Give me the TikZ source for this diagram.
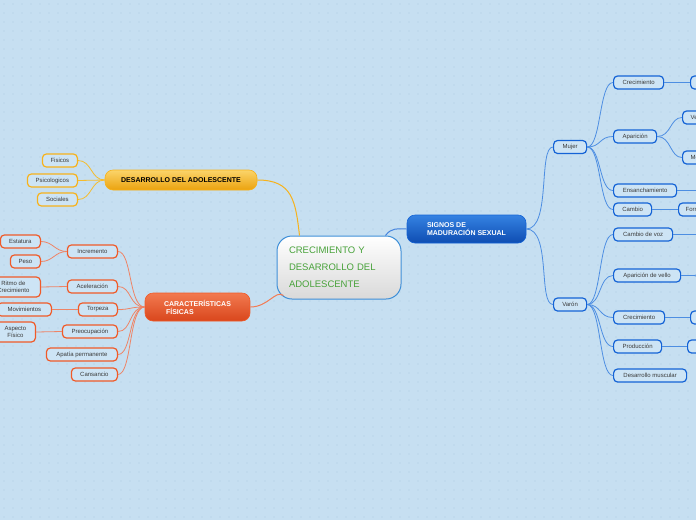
\documentclass[tikz,border=0pt]{standalone}
\usepackage{fontspec}
\setmainfont{Liberation Sans}
\usepackage{xcolor}
\usetikzlibrary{positioning,arrows.meta}

\definecolor{mapbg}{HTML}{C6DFF1}
\definecolor{mapdot}{HTML}{AFCBE2}
\definecolor{leaffill}{HTML}{CDE4F5}
\definecolor{leaftext}{HTML}{3A3A3A}
\definecolor{orangeline}{HTML}{F7B21B}
\definecolor{orangetop}{HTML}{FBD46A}
\definecolor{orangebot}{HTML}{EBA20E}
\definecolor{orangeedge}{HTML}{F5BC2E}
\definecolor{redline}{HTML}{F05A28}
\definecolor{redtop}{HTML}{F27A50}
\definecolor{redbot}{HTML}{D9461C}
\definecolor{redge}{HTML}{EE8466}
\definecolor{blueline}{HTML}{1463D6}
\definecolor{bluetop}{HTML}{3582E2}
\definecolor{bluebot}{HTML}{0E4DB2}
\definecolor{bluedge}{HTML}{4D8EE2}
\definecolor{centreline}{HTML}{3E8FD8}
\definecolor{centretext}{HTML}{48A23A}

\begin{document}
\begin{tikzpicture}[
		x=1pt,y=-1pt,
		leaf/.style={
			draw,
			rounded corners=4pt,
			line width=1.2pt,
			fill=leaffill,
			minimum height=13pt,
			inner sep=1pt,
			text=leaftext,
			font=\fontsize{6}{7}\selectfont
		},
		orangeleaf/.style={leaf,draw=orangeline},
		redleaf/.style={leaf,draw=redline},
		blueleaf/.style={leaf,draw=blueline},
		head/.style={
			rounded corners=8pt,
			line width=0.6pt,
			align=left,
			font=\fontsize{7}{8}\selectfont\bfseries
		},
		orangeedge/.style={draw=orangeedge,line width=0.8pt},
		rededge/.style={draw=redge,line width=0.8pt},
		blueedge/.style={draw=bluedge,line width=0.8pt}
		]
		
		% background with dots
		\fill[mapbg] (0,0) rectangle (696,520);
		\useasboundingbox (0,0) rectangle (696,520);
		\clip (0,0) rectangle (696,520);
		\foreach \x in {4,13,...,696}
			\foreach \y in {4,13,...,520}
				\fill[mapdot] (\x,\y) circle (0.55pt);
		
		% centre
		\node[draw=centreline,line width=1pt,rounded corners=15pt,
			top color=white,bottom color=black!15,
			minimum width=124pt,minimum height=63pt,
			text width=100pt,align=left,text=centretext,
			font=\fontsize{9.5}{17}\selectfont]
		(cen) at (339,267.5)
		{CRECIMIENTO Y\\DESARROLLO DEL\\ADOLESCENTE};
		
		% main branches
		\node[head,draw=orangeline,top color=orangetop,bottom color=orangebot,
			minimum width=152pt,minimum height=20pt]
		(des) at (181,180)
		{DESARROLLO DEL ADOLESCENTE};
		
		\node[head,draw=redline,top color=redtop,bottom color=redbot,text=white,
			minimum width=105pt,minimum height=28pt]
		(car) at (197.5,307)
		{CARACTERÍSTICAS\\\hspace*{2pt}FÍSICAS};
		
		\node[head,draw=blueline,top color=bluetop,bottom color=bluebot,text=white,
			minimum width=119pt,minimum height=28pt]
		(sig) at (466.5,229)
		{SIGNOS DE\\MADURACIÓN SEXUAL};
		
		% desarrollo
		\node[orangeleaf,minimum width=35pt,anchor=east]
		(fis) at (78,160.5)
		{Fisicos};
		
		\node[orangeleaf,minimum width=50pt,anchor=east]
		(psi) at (78,180.5)
		{Psicologicos};
		
		\node[orangeleaf,minimum width=40pt,anchor=east]
		(soc) at (78,199.5)
		{Sociales};
		
		% caracteristicas
		\node[redleaf,minimum width=50pt,anchor=east]
		(inc) at (118,251.5)
		{Incremento};
		
		\node[redleaf,minimum width=50pt,anchor=east]
		(ace) at (118,286.5)
		{Aceleración};
		
		\node[redleaf,minimum width=39pt,anchor=east]
		(tor) at (118,309.5)
		{Torpeza};
		
		\node[redleaf,minimum width=55pt,anchor=east]
		(pre) at (118,331.5)
		{Preocupación};
		
		\node[redleaf,minimum width=71pt,anchor=east]
		(apa) at (118,354.5)
		{Apatía permanente};
		
		\node[redleaf,minimum width=46pt,anchor=east]
		(can) at (118,374.5)
		{Cansancio};
		
		\node[redleaf,minimum width=40pt,anchor=east]
		(est) at (41,241.5)
		{Estatura};
		
		\node[redleaf,minimum width=30pt,anchor=east]
		(pes) at (41,261.5)
		{Peso};
		
		\node[redleaf,minimum width=54pt,minimum height=20pt,align=center,anchor=east]
		(rit) at (41,287)
		{Ritmo de\\Crecimiento};
		
		\node[redleaf,minimum width=54pt,anchor=east]
		(mov) at (52,309.5)
		{Movimientos};
		
		\node[redleaf,minimum width=40pt,minimum height=20pt,align=center,anchor=east]
		(asp) at (36,332)
		{Aspecto\\Físico};
		
		% signos
		\node[blueleaf,minimum width=33pt,anchor=west]
		(muj) at (553,147)
		{Mujer};
		
		\node[blueleaf,minimum width=33pt,anchor=west]
		(var) at (553,304.5)
		{Varón};
		
		\node[blueleaf,minimum width=50pt,anchor=west]
		(mcre) at (613,82.5)
		{Crecimiento};
		
		\node[blueleaf,minimum width=43pt,anchor=west]
		(mapa) at (613,136.5)
		{Aparición};
		
		\node[blueleaf,minimum width=63pt,anchor=west]
		(ens) at (613,190.5)
		{Ensanchamiento};
		
		\node[blueleaf,minimum width=38pt,anchor=west]
		(mcam) at (613,209.5)
		{Cambio};
		
		\node[blueleaf,minimum width=59pt,anchor=west]
		(voz) at (613,234.5)
		{Cambio de voz};
		
		\node[blueleaf,minimum width=67pt,anchor=west]
		(vel) at (613,275.5)
		{Aparición de vello};
		
		\node[blueleaf,minimum width=51pt,anchor=west]
		(vcre) at (613,317.5)
		{Crecimiento};
		
		\node[blueleaf,minimum width=48pt,anchor=west]
		(pro) at (613,346.5)
		{Producción};
		
		\node[blueleaf,minimum width=73pt,anchor=west]
		(mus) at (613,375.5)
		{Desarrollo muscular};
		
		% cut off at the right edge
		\node[blueleaf,minimum width=40pt,anchor=west]
		(mcre2) at (690,82.5)
		{};
		
		\node[blueleaf,inner xsep=8pt,anchor=west]
		(mvel) at (682,117.5)
		{Vello};
		
		\node[blueleaf,inner xsep=8pt,anchor=west]
		(mmen) at (682,157.5)
		{Menstruación};
		
		\node[blueleaf,inner xsep=7pt,anchor=west]
		(mfor) at (678,209.5)
		{Forma};
		
		\node[blueleaf,minimum width=40pt,anchor=west]
		(vcre2) at (690,317.5)
		{};
		
		\node[blueleaf,minimum width=40pt,anchor=west]
		(pro2) at (687,346.5)
		{};
		
		\coordinate (ens2) at (730,190.5);
		\coordinate (voz2) at (730,234.5);
		\coordinate (vel2a) at (720,258);
		\coordinate (vel2b) at (720,294);
		
		% centre to branches
		\draw[draw=orangeline,line width=1pt] (des.east) .. controls +(35,0) and +(-4,-35) .. ([xshift=23pt]cen.north west);
		\draw[draw=redline!80,line width=1pt] (car.east) .. controls +(18,0) and +(-8,-6) .. ([xshift=7pt,yshift=4pt]cen.south west);
		\draw[draw=blueline!80,line width=1pt] ([xshift=-16pt]cen.north east) .. controls +(6,-8) and +(-10,0) .. (sig.west);
		
		% desarrollo
		\foreach \n in {fis,psi,soc}
			\draw[orangeedge] (des.west) .. controls +(-14,0) and +(14,0) .. (\n.east);
		
		% caracteristicas
		\foreach \n in {inc,ace,tor,pre,apa,can}
			\draw[rededge] (car.west) .. controls +(-16,0) and +(14,0) .. (\n.east);
		\draw[rededge] (inc.west) .. controls +(-12,0) and +(12,0) .. (est.east);
		\draw[rededge] (inc.west) .. controls +(-12,0) and +(12,0) .. (pes.east);
		\draw[rededge] (ace.west) -- (rit.east);
		\draw[rededge] (tor.west) -- (mov.east);
		\draw[rededge] (pre.west) -- (asp.east);
		
		% signos
		\draw[blueedge] (sig.east) .. controls +(25,0) and +(-15,0) .. (muj.west);
		\draw[blueedge] (sig.east) .. controls +(25,0) and +(-15,0) .. (var.west);
		\foreach \n in {mcre,mapa,ens,mcam}
			\draw[blueedge] (muj.east) .. controls +(14,0) and +(-14,0) .. (\n.west);
		\foreach \n in {voz,vel,vcre,pro,mus}
			\draw[blueedge] (var.east) .. controls +(14,0) and +(-14,0) .. (\n.west);
		\draw[blueedge] (mcre.east) -- (mcre2.west);
		\draw[blueedge] (mapa.east) .. controls +(14,0) and +(-12,0) .. (mvel.west);
		\draw[blueedge] (mapa.east) .. controls +(14,0) and +(-12,0) .. (mmen.west);
		\draw[blueedge] (ens.east) -- (ens2);
		\draw[blueedge] (mcam.east) -- (mfor.west);
		\draw[blueedge] (voz.east) -- (voz2);
		\draw[blueedge] (vel.east) -- ++(13,0) .. controls +(6,0) and +(-8,0) .. (vel2a);
		\draw[blueedge] (vel.east) -- ++(13,0) .. controls +(6,0) and +(-8,0) .. (vel2b);
		\draw[blueedge] (vcre.east) -- (vcre2.west);
		\draw[blueedge] (pro.east) -- (pro2.west);
		
	\end{tikzpicture}
\end{document}
